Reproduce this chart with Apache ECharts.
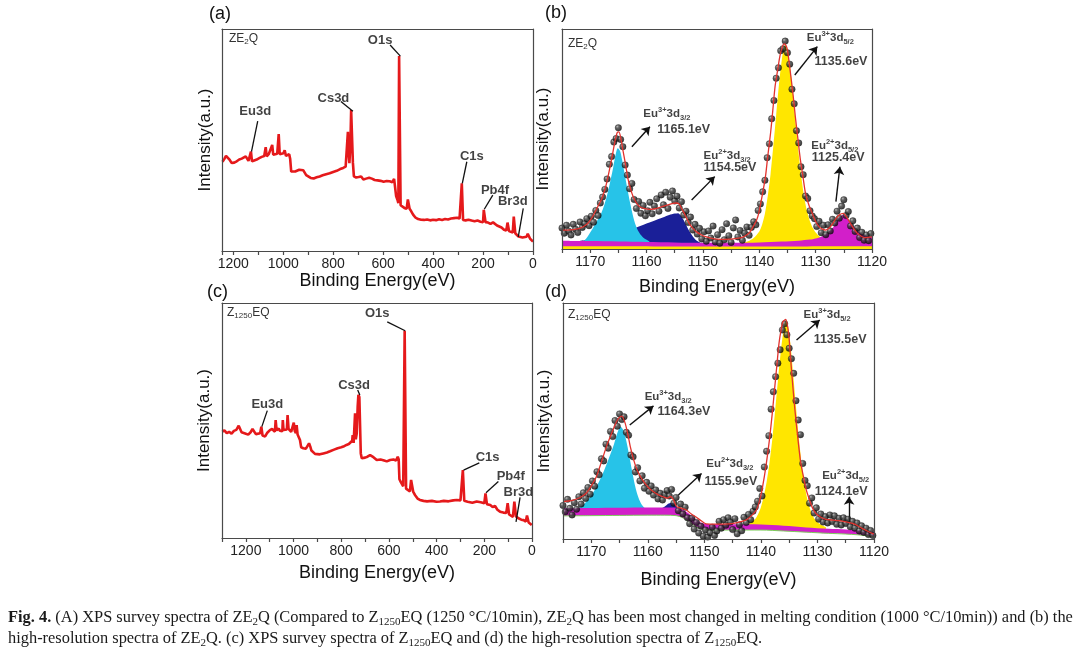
<!DOCTYPE html>
<html>
<head>
<meta charset="utf-8">
<script src="https://cdn.jsdelivr.net/npm/echarts@6/dist/echarts.min.js"></script>
<style>html,body{margin:0;padding:0;background:#fff}#c{width:1080px;height:653px}</style>
</head>
<body>
<div id="c"></div>
<script>
// ---------------- DATA ----------------
// (a) survey spectrum of ZE2Q : [binding energy eV, intensity a.u.]
const surveyA = [
[1243,40.2],[1236,41.4],[1229,42.9],[1221,43.6],[1214,41.0],[1206,39.6],[1196,39.8],[1186,40.4],[1176,41.2],[1166,41.6],[1158,41.0],[1150,42.6],[1145,43.0],[1139,40.6],[1133,40.2],[1129,44.8],[1125,40.4],[1116,40.8],[1106,41.2],[1096,41.8],[1086,42.4],[1076,42.8],[1070,46.8],[1066,42.6],[1058,43.6],[1050,43.0],[1044,47.8],[1040,43.4],[1032,43.0],[1024,43.8],[1018,52.7],[1014,43.6],[1006,43.0],[999,44.0],[994,45.4],[989,42.8],[982,43.2],[976,43.6],[972,41.4],[968,35.8],[960,35.4],[952,35.8],[944,36.0],[936,36.6],[928,36.8],[920,36.4],[913,36.6],[908,34.2],[900,33.4],[890,32.9],[878,32.7],[866,33.2],[854,33.6],[842,34.1],[828,34.6],[814,35.0],[800,35.6],[786,36.1],[772,36.9],[760,37.4],[750,38.0],[744,38.4],[741,53.7],[738,44.0],[735,39.6],[731,48.0],[728,63.5],[724,63.2],[721,39.8],[717,33.6],[708,33.1],[698,33.3],[688,33.6],[679,32.2],[668,32.6],[656,33.0],[645,32.6],[634,32.0],[622,31.8],[610,31.6],[598,31.2],[586,31.5],[574,31.4],[563,31.0],[556,32.5],[551,31.6],[548,24.8],[543,23.2],[539,21.6],[536,87.8],[533,87.6],[530,20.6],[524,20.0],[515,19.4],[506,19.0],[501,23.2],[497,22.8],[494,19.0],[488,18.0],[480,16.4],[470,15.0],[460,14.4],[448,14.1],[436,14.0],[424,14.2],[412,13.8],[400,14.1],[388,13.9],[376,14.3],[364,14.0],[352,14.4],[340,14.2],[328,14.6],[316,14.8],[304,15.0],[294,14.6],[287,14.2],[285,30.5],[282,30.3],[280,14.0],[270,13.8],[258,14.1],[246,13.7],[234,13.4],[222,13.7],[210,13.2],[200,13.0],[197,18.5],[193,18.3],[190,13.0],[180,12.8],[170,12.2],[160,12.9],[152,12.1],[144,11.5],[136,11.0],[126,10.6],[116,9.6],[107,9.2],[102,12.8],[99,12.6],[96,9.0],[88,8.6],[81,8.3],[77,15.5],[74,15.2],[71,8.0],[64,7.6],[58,6.5],[50,6.3],[42,6.1],[34,6.0],[26,6.4],[21,7.8],[17,7.6],[12,5.6],[6,4.8],[0,4.2]
];
const surveyLabelsA = ['Eu3d','Cs3d','O1s','C1s','Pb4f','Br3d'];
const surveyLabelAtA = [[1112,62.8],[799,68.8],[612,95.0],[245,42.5],[152,27.5],[81,22.2]];
const surveyLeadersA = [[[1102,58.5],[1127,44.8]],[[769,67.3],[721,63.0]],[[572,92.8],[531,87.8]],[[265,40.2],[283,30.5]],[[161,25.2],[195,18.8]],[[39,19.2],[59,6.4]]];

// (c) survey spectrum of Z1250EQ
const surveyC = [
[1299,45.2],[1290,45.8],[1280,44.6],[1270,45.2],[1260,44.4],[1250,45.6],[1240,46.0],[1230,47.8],[1224,47.4],[1218,45.0],[1210,44.2],[1203,44.5],[1190,44.0],[1180,45.0],[1172,46.4],[1166,46.0],[1158,44.2],[1150,43.8],[1140,44.6],[1135,47.4],[1130,43.6],[1119,43.2],[1110,44.8],[1099,45.9],[1090,46.4],[1078,45.2],[1075,50.2],[1071,45.8],[1062,46.6],[1057,45.6],[1047,45.4],[1045,50.2],[1042,46.0],[1035,45.8],[1028,46.2],[1025,52.3],[1021,46.4],[1010,45.2],[1002,45.0],[999,49.1],[995,45.6],[990,44.6],[987,48.0],[983,44.0],[977,43.2],[973,41.7],[968,38.6],[959,38.2],[948,38.0],[940,37.8],[935,40.3],[930,39.0],[925,37.2],[917,37.0],[910,35.8],[903,35.3],[890,35.6],[875,36.0],[860,36.4],[847,36.9],[830,37.6],[815,38.2],[800,38.6],[791,38.9],[778,39.6],[768,40.0],[760,40.6],[754,41.4],[752,43.8],[748,40.5],[745,41.0],[742,53.1],[739,42.0],[735,44.5],[731,56.0],[728,60.9],[724,60.0],[721,60.4],[718,36.0],[714,33.9],[700,34.2],[690,34.6],[679,35.3],[665,34.4],[651,33.2],[635,33.4],[620,33.0],[609,32.6],[595,33.2],[581,33.4],[570,33.0],[563,34.6],[559,33.4],[556,25.0],[550,23.8],[547,23.3],[540,22.0],[536,21.8],[534,88.2],[531,88.0],[528,21.0],[520,20.2],[512,19.8],[507,24.7],[503,24.2],[498,19.6],[490,18.2],[480,16.8],[470,16.2],[455,15.8],[440,15.6],[420,15.8],[400,15.4],[386,15.5],[370,15.8],[350,15.6],[330,16.0],[316,16.2],[300,16.0],[292,15.8],[290,28.9],[286,28.6],[284,15.8],[270,15.4],[250,15.0],[232,15.5],[215,15.2],[200,14.8],[195,19.0],[191,19.2],[189,14.4],[175,14.0],[165,13.2],[155,13.6],[145,12.0],[134,11.2],[120,10.8],[108,10.6],[102,14.8],[98,14.6],[96,10.0],[88,9.4],[80,9.0],[74,15.5],[70,15.2],[67,9.2],[57,8.4],[45,7.8],[35,7.6],[26,7.0],[21,9.6],[18,9.8],[14,6.6],[8,6.0],[1,5.5]
];
const surveyLabelsC = ['Eu3d','Cs3d','O1s','C1s','Pb4f','Br3d'];
const surveyLabelAtC = [[1110,57.0],[746,65.1],[649,95.6],[186,34.2],[89,26.1],[57,19.4]];
const surveyLeadersC = [[[1110,54.2],[1133,47.4]],[[731,63.0],[722,60.9]],[[607,92.0],[532,88.2]],[[221,32.0],[287,28.9]],[[141,24.0],[193,19.3]],[[50,17.3],[67,6.9]]];

// (b) Eu 3d high-resolution spectrum of ZE2Q
const pointsB = [
[1175.0,9.5],[1174.6,7.2],[1174.2,10.8],[1173.8,8.1],[1173.4,6.4],[1173.0,11.2],[1172.6,9.0],[1172.2,7.5],[1171.8,12.3],[1171.4,9.8],[1171.0,11.5],[1170.6,13.8],[1170.2,10.6],[1169.8,14.9],[1169.4,12.2],[1169.0,17.5],[1168.6,15.2],[1168.2,20.9],[1167.8,23.6],[1167.4,27.1],[1167.0,31.8],[1166.6,38.5],[1166.2,42.0],[1165.8,48.6],[1165.4,50.2],[1165.0,55.1],[1164.6,49.8],[1164.2,46.5],[1163.8,38.2],[1163.4,33.6],[1163.0,27.4],[1162.6,29.8],[1162.2,22.5],[1161.8,18.4],[1161.4,21.6],[1161.0,16.2],[1160.6,19.8],[1160.2,15.1],[1159.8,17.4],[1159.4,21.2],[1159.0,16.0],[1158.6,19.5],[1158.2,22.8],[1157.8,17.2],[1157.4,24.6],[1157.0,20.1],[1156.6,25.8],[1156.2,18.4],[1155.8,23.5],[1155.4,26.4],[1155.0,21.8],[1154.6,24.0],[1154.2,18.6],[1153.8,21.5],[1153.4,15.4],[1153.0,17.2],[1152.6,12.0],[1152.2,14.5],[1151.8,8.6],[1151.4,11.2],[1151.0,6.8],[1150.6,9.4],[1150.2,4.6],[1149.8,7.8],[1149.4,3.5],[1149.0,8.2],[1148.6,5.0],[1148.2,10.4],[1147.8,3.2],[1147.4,6.5],[1147.0,2.6],[1146.6,8.8],[1146.2,4.2],[1145.8,11.5],[1145.4,6.0],[1145.0,3.0],[1144.6,9.6],[1144.2,13.2],[1143.8,5.5],[1143.4,8.4],[1143.0,4.0],[1142.6,7.2],[1142.2,10.0],[1141.8,6.2],[1141.4,9.8],[1141.0,12.4],[1140.6,11.0],[1140.2,17.5],[1139.8,20.5],[1139.4,26.0],[1139.0,31.2],[1138.6,41.5],[1138.2,47.8],[1137.8,59.2],[1137.4,67.5],[1137.0,77.6],[1136.6,82.4],[1136.2,90.1],[1135.8,91.0],[1135.4,94.5],[1135.0,89.2],[1134.6,84.0],[1134.2,72.6],[1133.8,66.0],[1133.4,53.8],[1133.0,48.2],[1132.6,37.4],[1132.2,33.8],[1131.8,24.1],[1131.4,23.0],[1131.0,17.4],[1130.6,15.0],[1130.2,13.8],[1129.8,10.2],[1129.4,12.6],[1129.0,7.4],[1128.6,10.8],[1128.2,6.5],[1127.8,11.0],[1127.4,8.2],[1127.0,13.5],[1126.6,11.8],[1126.2,17.2],[1125.8,14.0],[1125.4,19.5],[1125.0,22.4],[1124.6,15.2],[1124.2,17.0],[1123.8,10.5],[1123.4,12.8],[1123.0,8.0],[1122.6,9.5],[1122.2,5.2],[1121.8,7.6],[1121.4,4.0],[1121.0,6.4],[1120.6,3.8],[1120.2,7.0]
];
const fitB = [
[1175,8.6],[1174,8.6],[1173,8.8],[1172,9.3],[1171.3,10.0],[1170.5,11.5],[1170,13],[1169.5,15],[1169,17.5],[1168.5,20],[1168,22.5],[1167.5,26],[1167,31],[1166.5,37],[1166,43.5],[1165.6,49],[1165.2,53],[1164.9,53.2],[1164.5,49.5],[1164.2,45],[1163.7,38],[1163.3,32],[1162.8,27],[1162.4,24],[1161.8,21],[1161.2,19.2],[1160.3,18.3],[1159.5,18.0],[1158.5,18.3],[1157.5,19],[1156.5,19.8],[1155.5,20.6],[1154.8,20.9],[1154.2,20.4],[1153.8,18.5],[1153.3,16.2],[1152.8,13.5],[1152.4,11.4],[1151.8,9.5],[1151.2,7.9],[1150.3,6.5],[1149.5,5.6],[1148,4.6],[1146,4.4],[1144,4.8],[1143,5.3],[1142,6.8],[1141.6,7.9],[1141,10.5],[1140.5,13],[1140.1,16.2],[1139.5,24],[1138.9,32.9],[1138.5,42],[1138,52.6],[1137.6,63],[1137.2,73.8],[1136.7,82],[1136.3,88.2],[1135.9,92],[1135.6,93.2],[1135.3,92.7],[1135,90.5],[1134.5,80.6],[1134,70],[1133.6,60.1],[1133.1,49],[1132.7,40.5],[1132.2,32],[1131.8,25.3],[1131.2,20],[1130.6,16.2],[1130,12.5],[1129.4,10.2],[1128.8,9.0],[1128.2,8.6],[1127.6,9.5],[1127,11.4],[1126.4,13.8],[1125.8,15.5],[1125.1,16.2],[1124.5,14.5],[1124,12.4],[1123.3,9.5],[1122.6,7.1],[1122,6.0],[1121.4,5.2],[1120.7,5.3],[1120,5.5]
];
const navyB = [[1172.5,3.4],[1171,4.0],[1169,4.8],[1167,5.8],[1165,7.0],[1163,8.6],[1161,10.6],[1159,12.5],[1157,14.4],[1156,15.4],[1155,16.1],[1154.4,16.3],[1154,15.5],[1153.5,13.5],[1153,11.0],[1152.5,8.5],[1152,6.5],[1151.5,4.8],[1151,3.6],[1150,2.4],[1149,2.0]];
const cyanB = [[1171.5,3],[1171,4],[1170.5,5.5],[1170,7.5],[1169.5,9.5],[1169,12],[1168.5,14],[1168,16.5],[1167.5,20],[1167,24.5],[1166.5,30],[1166,36],[1165.6,41.5],[1165.1,45.8],[1164.7,44.5],[1164.3,40],[1163.8,33],[1163.3,26],[1162.8,19.5],[1162.3,14],[1161.8,10],[1161.2,7],[1160.5,5],[1159.5,3.5]];
const yellowB = [[1144,2],[1142,3.5],[1141,5],[1140,8],[1139.5,11],[1139,16],[1138.5,24],[1138,34],[1137.5,47],[1137,61],[1136.5,75],[1136,86],[1135.6,92],[1135.4,92.7],[1135,90],[1134.5,82],[1134,70],[1133.5,56],[1133,43],[1132.5,32],[1132,23],[1131.5,17],[1131,12.5],[1130.5,9.5],[1130,7.5],[1129,5],[1128,3.8],[1127,3],[1125,2.2],[1122,1.7],[1120,1.5]];
const backgroundB = [[1175,1.2],[1165,1.2],[1155,1.1],[1145,1.1],[1135,1.1],[1128,1.2],[1120,1.3]];
const magentaB = [[1175,3.8],[1170,3.6],[1165,3.4],[1160,3.2],[1155,3.0],[1150,2.8],[1145,2.8],[1140,3.0],[1136,3.4],[1133,3.8],[1131,4.3],[1130,4.8],[1129,5.6],[1128,7.0],[1127,9.5],[1126.5,11.5],[1126,13.5],[1125.5,15.0],[1125.1,15.5],[1124.7,15.0],[1124.2,13.5],[1123.7,11.5],[1123,9.5],[1122.5,8.2],[1122,7.2],[1121,6.0],[1120,5.3]];
const statesB = ['3+','2+','3+','2+'];
const orbitalsB = ['3/2','3/2','5/2','5/2'];
const energiesB = ['1165.1eV','1154.5eV','1135.6eV','1125.4eV'];
const ionAtB = [[1156.4,61.4],[1145.7,42.3],[1127.4,95.9],[1126.6,46.8]];
const energyAtB = [[1153.4,54.1],[1145.2,36.8],[1125.5,85.0],[1126.0,41.4]];
const arrowsB = [[[1162.6,46.5],[1159.4,55.6]],[[1152.0,22.3],[1147.9,32.9]],[[1133.7,79.1],[1129.7,92.0]],[[1126.4,21.5],[1125.7,37.4]]];

// (d) Eu 3d high-resolution spectrum of Z1250EQ
const pointsD = [
[1175.0,14.2],[1174.6,11.5],[1174.2,16.8],[1173.8,13.0],[1173.4,10.2],[1173.0,15.4],[1172.6,12.6],[1172.2,17.9],[1171.8,14.8],[1171.4,19.6],[1171.0,17.2],[1170.6,21.8],[1170.2,19.0],[1169.8,24.6],[1169.4,22.4],[1169.0,28.5],[1168.6,27.2],[1168.2,34.0],[1167.8,33.1],[1167.4,40.2],[1167.0,38.5],[1166.6,45.6],[1166.2,43.4],[1165.8,50.2],[1165.4,47.8],[1165.0,53.0],[1164.6,50.6],[1164.2,51.8],[1163.8,45.2],[1163.4,44.0],[1163.0,35.6],[1162.6,34.8],[1162.2,28.4],[1161.8,30.2],[1161.4,24.6],[1161.0,26.8],[1160.6,21.5],[1160.2,24.0],[1159.8,20.2],[1159.4,22.5],[1159.0,18.6],[1158.6,20.8],[1158.2,17.0],[1157.8,19.4],[1157.4,16.5],[1157.0,18.8],[1156.6,20.5],[1156.2,18.2],[1155.8,21.0],[1155.4,15.2],[1155.0,17.6],[1154.6,12.0],[1154.2,14.8],[1153.8,10.6],[1153.4,13.5],[1153.0,9.0],[1152.6,6.5],[1152.2,8.8],[1151.8,4.2],[1151.4,7.0],[1151.0,2.5],[1150.6,5.4],[1150.2,1.2],[1149.8,3.8],[1149.4,0.8],[1149.0,2.6],[1148.6,5.0],[1148.2,1.5],[1147.8,3.4],[1147.4,7.5],[1147.0,4.6],[1146.6,8.2],[1146.2,5.8],[1145.8,9.0],[1145.4,7.2],[1145.0,4.0],[1144.6,8.6],[1144.2,2.2],[1143.8,6.0],[1143.4,3.5],[1143.0,9.2],[1142.6,7.0],[1142.2,10.4],[1141.8,8.2],[1141.4,11.8],[1141.0,13.6],[1140.6,16.0],[1140.2,21.4],[1139.8,18.2],[1139.4,30.5],[1139.0,37.2],[1138.6,43.8],[1138.2,55.0],[1137.8,62.4],[1137.4,68.8],[1137.0,74.5],[1136.6,80.2],[1136.2,88.6],[1135.8,91.2],[1135.4,86.5],[1135.0,80.8],[1134.6,76.4],[1134.2,70.2],[1133.8,58.6],[1133.4,50.4],[1133.0,44.2],[1132.6,32.0],[1132.2,24.8],[1131.8,22.6],[1131.4,15.2],[1131.0,17.4],[1130.6,11.0],[1130.2,13.2],[1129.8,8.4],[1129.4,10.6],[1129.0,7.2],[1128.6,9.5],[1128.2,6.8],[1127.8,10.2],[1127.4,7.4],[1127.0,9.8],[1126.6,6.2],[1126.2,8.8],[1125.8,5.9],[1125.4,9.0],[1125.0,6.6],[1124.6,8.4],[1124.2,5.2],[1123.8,7.5],[1123.4,4.6],[1123.0,6.8],[1122.6,3.4],[1122.2,5.6],[1121.8,2.8],[1121.4,4.6],[1121.0,1.9],[1120.6,3.6],[1120.2,1.5]
];
const fitD = [
[1175,15.8],[1174,16.1],[1173.2,16.5],[1172,17.6],[1170.9,19.4],[1170,22.5],[1169.1,26.4],[1168.5,30.5],[1167.9,34.9],[1167.2,40],[1166.4,44.8],[1165.8,48.3],[1165.2,51.1],[1164.6,52.1],[1164.0,49.0],[1163.5,44],[1163.1,39.1],[1162.5,33.5],[1161.9,29.2],[1161.2,26],[1160.5,23.6],[1159.8,21.6],[1159.0,20.0],[1158.2,18.8],[1157.3,17.9],[1156.5,17.3],[1156,18.0],[1155.5,16.8],[1154.9,13.7],[1154,13.0],[1153.2,12.3],[1152.3,10.6],[1151.4,9.2],[1150.5,7.6],[1149.7,6.4],[1148,6.3],[1145.6,6.4],[1144,7.0],[1142.6,8.1],[1141.6,10.0],[1140.8,12.3],[1140.2,16.5],[1139.7,22.2],[1139.1,31],[1138.5,41.9],[1138,53],[1137.6,63.1],[1137.2,73],[1136.8,82.9],[1136.4,89],[1136.1,92.1],[1135.6,93.1],[1135.1,87.1],[1134.8,78],[1134.4,66.0],[1134,55],[1133.5,43.4],[1133,33],[1132.6,27.8],[1132,21],[1131.4,16.5],[1130.9,13.3],[1130.3,10.9],[1129.4,9.2],[1128.5,8.3],[1127.3,8.0],[1126.1,7.8],[1125,7.3],[1123.8,6.6],[1122.9,5.6],[1122.1,4.5],[1121.2,3.4],[1120.3,2.4],[1120,2.2]
];
const cyanD = [[1173,12.5],[1172,13.5],[1171,15.5],[1170,18.5],[1169,22.5],[1168,27.5],[1167,33.5],[1166,40],[1165.3,45.5],[1164.8,47.6],[1164.3,46],[1163.8,41.5],[1163.3,35.5],[1162.8,29],[1162.3,23],[1161.8,18.5],[1161.2,15],[1160.5,13],[1159.5,12]];
const navyD = [[1158,12.5],[1157,13.8],[1156.3,15.0],[1155.7,15.4],[1155.2,14.6],[1154.7,13],[1154.2,12]];
const yellowD = [[1142.5,6.0],[1141.5,7.5],[1141,8.5],[1140.5,10.5],[1140,13.5],[1139.5,18],[1139,24],[1138.5,32],[1138,42],[1137.5,54],[1137,67],[1136.5,79],[1136,88.5],[1135.6,92.5],[1135.2,90],[1134.8,83],[1134.3,70],[1133.8,56],[1133.3,43],[1132.8,32],[1132.3,23.5],[1131.8,17],[1131.2,12],[1130.5,8.5],[1129.5,6.2],[1128.5,5]];
const backgroundD = [[1175,9.8],[1170,9.9],[1165,10.0],[1160,10.1],[1157,10.1],[1155,9.9],[1154,9.2],[1153,7.8],[1152,6.0],[1151,4.6],[1150,4.0],[1148,3.8],[1145,3.8],[1140,3.8],[1136,3.4],[1132,2.9],[1128,2.4],[1125,2.1],[1123,1.8],[1121,1.3],[1120,1.1]];
const magentaD = [[1175,13.0],[1170,13.1],[1165,13.2],[1160,13.3],[1157,13.3],[1155,13.2],[1154,12.6],[1153,11.2],[1152,9.2],[1151,7.4],[1150,6.5],[1148,6.2],[1145,6.2],[1140,6.1],[1136,5.6],[1132,4.9],[1128,4.3],[1125,4.0],[1123,3.7],[1121,3.2],[1120,3.0]];
const statesD = ['3+','2+','3+','2+'];
const orbitalsD = ['3/2','3/2','5/2','5/2'];
const energiesD = ['1164.3eV','1155.9eV','1135.5eV','1124.1eV'];
const ionAtD = [[1156.4,60.2],[1145.5,31.8],[1128.3,94.9],[1125.0,26.7]];
const energyAtD = [[1153.6,53.8],[1145.3,24.2],[1126.0,84.7],[1125.8,20.3]];
const arrowsD = [[[1163.2,48.3],[1159.0,56.4]],[[1154.6,18.6],[1150.5,27.8]],[[1133.7,84.3],[1129.6,92.8]],[[1124.4,7.3],[1124.4,17.9]]];

// ---------------- CHART ----------------
const FONT = '"Liberation Sans", Arial, sans-serif';
const SERIF = '"Liberation Serif", "Times New Roman", serif';
const AX = '#4a4a4a';
const C = {red:'#e5191b', fit:'#e2332e', cyan:'#27c3e8', navy:'#1a1f98', yellow:'#ffe600', magenta:'#d21fc9'};

const chart = echarts.init(document.getElementById('c'));

const grids = [
  {left:222, top:29, width:311, height:222},
  {left:562, top:29, width:310, height:220},
  {left:222, top:303, width:310, height:235},
  {left:563, top:303, width:311, height:236}
];

function bottomAxis(g, min, max, step, labelStep, gap) {
  return {type:'value', gridIndex:g, min:min, max:max, interval:step, inverse:true, position:'bottom',
    name:'Binding Energy(eV)', nameLocation:'middle', nameGap:gap,
    nameTextStyle:{fontFamily:FONT, fontSize:18, color:'#111'},
    axisLine:{show:true, onZero:false, lineStyle:{color:AX, width:1.2}},
    axisTick:{show:true, inside:false, length:4, lineStyle:{color:AX, width:1.2}},
    axisLabel:{margin:6, fontFamily:FONT, fontSize:14, color:'#222',
      formatter:function(v){ return (Math.round(v) % labelStep === 0) ? String(Math.round(v)) : ''; }},
    splitLine:{show:false}, z:10};
}
function topAxis(g, min, max) {
  return {type:'value', gridIndex:g, min:min, max:max, inverse:true, position:'top',
    axisLine:{show:true, onZero:false, lineStyle:{color:AX, width:1.2}}, axisTick:{show:false},
    axisLabel:{show:false}, splitLine:{show:false}, z:10};
}
function leftAxis(g, gap) {
  return {type:'value', gridIndex:g, min:0, max:100, position:'left',
    name:'Intensity(a.u.)', nameLocation:'middle', nameGap:gap,
    nameTextStyle:{fontFamily:FONT, fontSize:17, color:'#111'},
    axisLine:{show:true, onZero:false, lineStyle:{color:AX, width:1.2}}, axisTick:{show:false},
    axisLabel:{show:false}, splitLine:{show:false}, z:10};
}
function rightAxis(g) {
  return {type:'value', gridIndex:g, min:0, max:100, position:'right',
    axisLine:{show:true, onZero:false, lineStyle:{color:AX, width:1.2}}, axisTick:{show:false},
    axisLabel:{show:false}, splitLine:{show:false}, z:10};
}

function surveySeries(g, data, labels, at, leaders) {
  return [
    {type:'line', xAxisIndex:g, yAxisIndex:g, data:data, symbol:'none', lineStyle:{color:C.red, width:2.6}, z:3},
    {type:'scatter', xAxisIndex:g, yAxisIndex:g, z:6, symbolSize:1, itemStyle:{color:'rgba(0,0,0,0)'},
      data:labels.map(function(t,i){ return {name:t, value:at[i]}; }),
      label:{show:true, position:'inside', formatter:'{b}', fontFamily:FONT, fontSize:13, fontWeight:'bold', color:'#111'},
      markLine:{silent:true, symbol:['none','none'], label:{show:false}, animation:false,
        lineStyle:{color:'#111', width:1.3, type:'solid'},
        data:leaders.map(function(l){ return [{coord:l[0]},{coord:l[1]}]; })}}
  ];
}

const sphere = new echarts.graphic.RadialGradient(0.35, 0.32, 0.7, [
  {offset:0, color:'#a8a8a8'}, {offset:0.35, color:'#3c3c3c'}, {offset:1, color:'#060606'}]);

function areaSeries(g, data, color, z, smooth) {
  return {type:'line', xAxisIndex:g, yAxisIndex:g, data:data, symbol:'none', smooth:smooth,
    lineStyle:{width:0, opacity:0}, areaStyle:{color:color, opacity:1}, z:z};
}

function hrSeries(g, p) {
  const ionRich = {
    m:{fontFamily:FONT, fontSize:11.5, fontWeight:'bold', color:'#111', lineHeight:16},
    u:{fontFamily:FONT, fontSize:7.5, fontWeight:'bold', color:'#111', lineHeight:9, verticalAlign:'top'},
    d:{fontFamily:FONT, fontSize:7.5, fontWeight:'bold', color:'#111', lineHeight:9, verticalAlign:'bottom'}
  };
  const bgSeries = areaSeries(g, p.bg, p.bgFill, 2.8, 0.3);
  if (p.bgLine) { bgSeries.lineStyle = {width:1, color:p.bgLine}; }
  return [
    areaSeries(g, p.navy, C.navy, 2, 0.3),
    areaSeries(g, p.cyan, C.cyan, 2.1, 0.3),
    areaSeries(g, p.yellow, C.yellow, 2.2, 0.25),
    areaSeries(g, p.magenta, C.magenta, 2.5, 0.3),
    bgSeries,
    {type:'scatter', xAxisIndex:g, yAxisIndex:g, data:p.points, symbolSize:6.5,
      itemStyle:{color:sphere, borderColor:'#111', borderWidth:0.4}, z:5},
    {type:'line', xAxisIndex:g, yAxisIndex:g, data:p.fit, symbol:'none', smooth:0.25,
      lineStyle:{color:C.fit, width:1.3}, z:6},
    {type:'scatter', xAxisIndex:g, yAxisIndex:g, z:7, symbolSize:1, itemStyle:{color:'rgba(0,0,0,0)'},
      data:p.ionAt.map(function(v,i){ return {name:String(i), value:v}; }),
      label:{show:true, position:'inside', rich:ionRich,
        formatter:function(q){ return '{m|Eu}{u|' + p.states[q.dataIndex] + '}{m|3d}{d|' + p.orbitals[q.dataIndex] + '}'; }},
      markLine:{silent:true, symbol:['none','arrow'], symbolSize:8, label:{show:false}, animation:false,
        lineStyle:{color:'#111', width:1.4, type:'solid'},
        data:p.arrows.map(function(l){ return [{coord:l[0]},{coord:l[1]}]; })}},
    {type:'scatter', xAxisIndex:g, yAxisIndex:g, z:7, symbolSize:1, itemStyle:{color:'rgba(0,0,0,0)'},
      data:p.energyAt.map(function(v,i){ return {name:p.energies[i], value:v}; }),
      label:{show:true, position:'inside', formatter:'{b}', fontFamily:FONT, fontSize:12.5, fontWeight:'bold', color:'#111'}}
  ];
}

const series = [].concat(
  surveySeries(0, surveyA, surveyLabelsA, surveyLabelAtA, surveyLeadersA),
  hrSeries(1, {navy:navyB, cyan:cyanB, yellow:yellowB, bg:backgroundB, bgFill:C.yellow, bgLine:null, magenta:magentaB,
    points:pointsB, fit:fitB, states:statesB, orbitals:orbitalsB, energies:energiesB, ionAt:ionAtB, energyAt:energyAtB, arrows:arrowsB}),
  surveySeries(2, surveyC, surveyLabelsC, surveyLabelAtC, surveyLeadersC),
  hrSeries(3, {navy:navyD, cyan:cyanD, yellow:yellowD, bg:backgroundD, bgFill:'#ffffff', bgLine:'#7ccf5a', magenta:magentaD,
    points:pointsD, fit:fitD, states:statesD, orbitals:orbitalsD, energies:energiesD, ionAt:ionAtD, energyAt:energyAtD, arrows:arrowsD})
);

const subRich = {s:{fontFamily:FONT, fontSize:8, fill:'#333', lineHeight:8, verticalAlign:'bottom'}};
const CAPSIZE = 16.4;
const capRich = {
  b:{fontFamily:SERIF, fontSize:CAPSIZE, fontWeight:'bold', fill:'#1a1a1a', lineHeight:19},
  n:{fontFamily:SERIF, fontSize:CAPSIZE, fill:'#1a1a1a', lineHeight:19},
  s:{fontFamily:SERIF, fontSize:11, fill:'#1a1a1a', lineHeight:11, verticalAlign:'bottom'}
};
const cap1 = '{b|Fig. 4.}{n| (A) XPS survey spectra of ZE}{s|2}{n|Q (Compared to Z}{s|1250}{n|EQ (1250 °C/10min), ZE}{s|2}{n|Q has been most changed in melting condition (1000 °C/10min)) and (b) the}';
const cap2 = '{n|high-resolution spectra of ZE}{s|2}{n|Q. (c) XPS survey spectra of Z}{s|1250}{n|EQ and (d) the high-resolution spectra of Z}{s|1250}{n|EQ.}';

function panelLabel(t, x, y) {
  return {type:'text', left:x, top:y, z:20, style:{text:t, fontFamily:FONT, fontSize:18, fill:'#111'}};
}
function sampleLabel(t, x, y) {
  return {type:'text', left:x, top:y, z:20, style:{text:t, fontFamily:FONT, fontSize:12, fill:'#333', lineHeight:15, rich:subRich}};
}

chart.setOption({
  backgroundColor:'#ffffff',
  animation:false,
  textStyle:{fontFamily:FONT},
  grid:grids,
  xAxis:[bottomAxis(0,0,1245,100,200,19), bottomAxis(1,1120,1175,5,10,29), bottomAxis(2,0,1300,100,200,26), bottomAxis(3,1120,1175,5,10,32),
         topAxis(0,0,1245), topAxis(1,1120,1175), topAxis(2,0,1300), topAxis(3,1120,1175)],
  yAxis:[leftAxis(0,8), leftAxis(1,10), leftAxis(2,9), leftAxis(3,10),
         rightAxis(0), rightAxis(1), rightAxis(2), rightAxis(3)],
  series:series,
  graphic:[
    panelLabel('(a)', 209, 5), panelLabel('(b)', 545, 4), panelLabel('(c)', 207, 283), panelLabel('(d)', 545, 283),
    sampleLabel('ZE{s|2}Q', 229, 31), sampleLabel('ZE{s|2}Q', 568, 36),
    sampleLabel('Z{s|1250}EQ', 227, 305), sampleLabel('Z{s|1250}EQ', 568, 307),
    {type:'text', left:8, top:610, z:20, style:{text:cap1, rich:capRich, fontFamily:SERIF, fontSize:CAPSIZE, fill:'#1a1a1a'}},
    {type:'text', left:8, top:631, z:20, style:{text:cap2, rich:capRich, fontFamily:SERIF, fontSize:CAPSIZE, fill:'#1a1a1a'}}
  ]
});
</script>
</body>
</html>
